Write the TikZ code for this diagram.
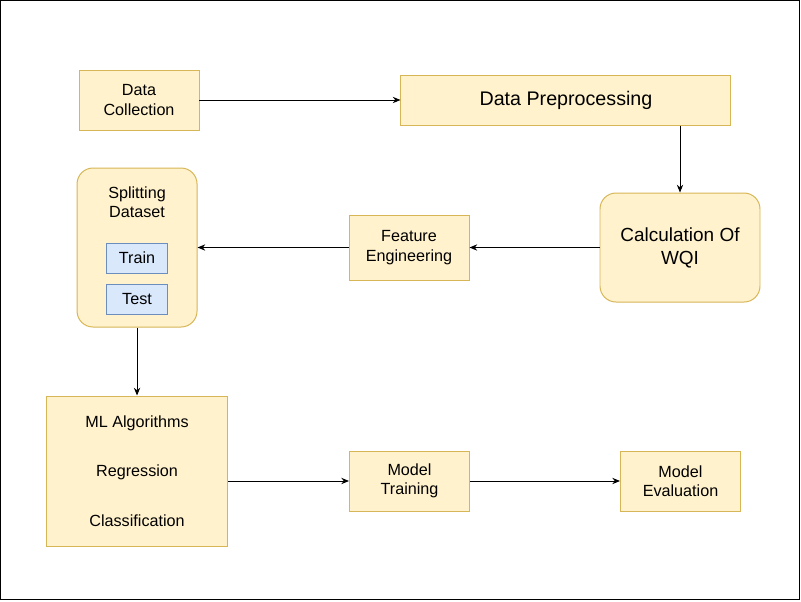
\documentclass[tikz,border=0pt]{standalone}
\usepackage{fontspec}
\setmainfont{Liberation Sans}
\usetikzlibrary{arrows.meta, positioning, calc}

\definecolor{boxfill}{HTML}{FFF2CC}
\definecolor{boxdraw}{HTML}{D6B656}
\definecolor{subfill}{HTML}{DAE8FC}
\definecolor{subdraw}{HTML}{6C8EBF}

\begin{document}
\begin{tikzpicture}[
    >={Stealth[length=5.5pt, width=4.5pt]},
    box/.style={draw=boxdraw, fill=boxfill, line width=0.7pt, minimum width=3cm, minimum height=1.5cm, align=center, inner sep=0pt, font=\fontsize{11.5}{13.8}\selectfont},
    rbox/.style={box, rounded corners=0.4cm},
    bigtext/.style={font=\fontsize{14}{16.8}\selectfont},
    sub/.style={draw=subdraw, fill=subfill, line width=0.7pt, minimum width=1.525cm, minimum height=0.75cm, inner sep=0pt, font=\fontsize{11.5}{13.8}\selectfont},
    arrow/.style={->, line width=0.7pt},
  ]

  % --- Frame ---
  \useasboundingbox (0,0) rectangle (20.025,-15.025);
  \draw[line width=0.7pt] (0.0125,-0.0125) rectangle (19.99,-14.99);

  % --- Top row ---
  \node[box] (dcol) at (3.475,-2.5) {Data\\Collection};
  \node[box, bigtext, minimum width=8.25cm, minimum height=1.25cm, right=5.025cm of dcol] (prep) {Data Preprocessing};

  % --- Middle row ---
  \node[rbox, bigtext, font=\fontsize{13.5}{16.4}\selectfont, minimum width=4cm, minimum height=2.725cm] (wqi) at (17,-6.1875) {Calculation Of\\WQI};
  \node[box, minimum height=1.625cm, left=3.25cm of wqi] (feat) {Feature\\Engineering};
  \node[rbox, minimum height=3.975cm, left=3.775cm of feat] (split) {};
  \node[align=center, font=\fontsize{11.5}{13.8}\selectfont] (splitlbl) at ([yshift=1.1375cm]split.center) {Splitting\\Dataset};
  \node[sub] (train) at ([yshift=-0.2625cm]split.center) {Train};
  \node[sub, below=0.25cm of train] (test) {Test};

  % --- Bottom row ---
  \node[box, minimum width=4.525cm, minimum height=3.75cm, below=1.7cm of split] (algo) {ML Algorithms\\[21.5pt]Regression\\[21.5pt]Classification};
  \node[box, right=3.025cm of algo, yshift=-0.25cm] (mtrain) {Model\\Training};
  \node[box, right=3.75cm of mtrain] (meval) {Model\\Evaluation};

  % --- Arrows ---
  \draw[arrow] (dcol) -- (prep);
  \draw[arrow] (wqi.north |- prep.south) -- (wqi.north);
  \draw[arrow] (wqi) -- (feat);
  \draw[arrow] (feat) -- (split);
  \draw[arrow] (split) -- (algo);
  \draw[arrow] (mtrain.west -| algo.east) -- (mtrain);
  \draw[arrow] (mtrain) -- (meval);

\end{tikzpicture}
\end{document}
